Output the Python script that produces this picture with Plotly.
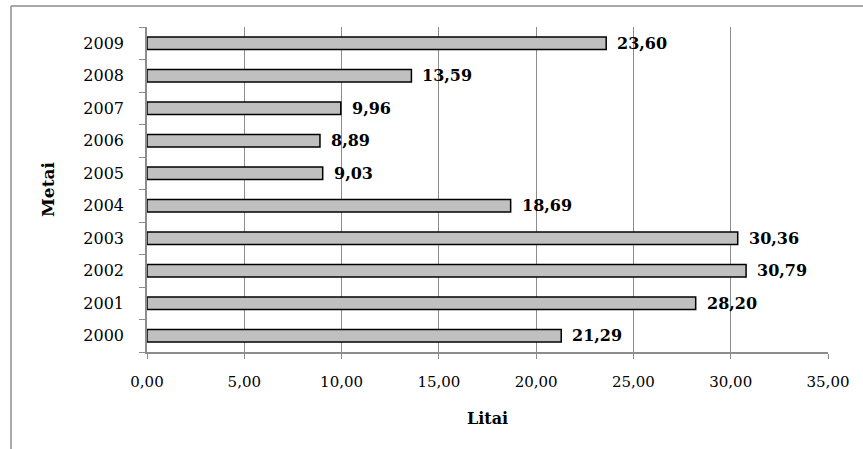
import plotly.graph_objects as go

# Yearly values (Litai), bottom-to-top order as listed on the axis
years = ["2000", "2001", "2002", "2003", "2004", "2005", "2006", "2007", "2008", "2009"]
values = [21.29, 28.20, 30.79, 30.36, 18.69, 9.03, 8.89, 9.96, 13.59, 23.60]
x_ticks = [0, 5, 10, 15, 20, 25, 30, 35]

W, H = 863, 449
ML, MR, MT, MB = 147, 35, 27, 97
plot_w = W - ML - MR
plot_h = H - MT - MB

SERIF = "DejaVu Serif"
AXIS_GRAY = "#8c8c8c"

pos = list(range(len(years)))
bounds = [p - 0.5 for p in pos] + [pos[-1] + 0.5]

fig = go.Figure()
fig.add_trace(go.Bar(
    y=pos,
    x=values,
    orientation="h",
    width=0.38,
    marker=dict(color="#c0c0c0", line=dict(color="#000000", width=1.5)),
    hoverinfo="skip",
))

# value labels to the right of each bar
for p, v in zip(pos, values):
    fig.add_annotation(
        x=v, y=p, text="<b>" + f"{v:.2f}".replace(".", ",") + "</b>",
        xanchor="left", yanchor="middle", xshift=9, showarrow=False,
        font=dict(family=SERIF, size=16, color="#000000"),
    )

# frame lines on the left and top of the chart area
def px_x(p):
    return (p - ML) / plot_w

def px_y(p):
    return (H - MB - p) / plot_h

fig.add_shape(type="line", xref="paper", yref="paper",
              x0=px_x(11), x1=px_x(W + 5), y0=px_y(6), y1=px_y(6),
              line=dict(color=AXIS_GRAY, width=1.5))
fig.add_shape(type="line", xref="paper", yref="paper",
              x0=px_x(11), x1=px_x(11), y0=px_y(6), y1=px_y(H + 5),
              line=dict(color=AXIS_GRAY, width=1.5))

fig.update_layout(
    width=W, height=H,
    margin=dict(l=ML, r=MR, t=MT, b=MB, pad=0),
    paper_bgcolor="white", plot_bgcolor="white",
    separators=", ",
    showlegend=False,
    font=dict(family=SERIF, size=15, color="#000000"),
    xaxis=dict(
        range=[0, 35], tickvals=x_ticks, tickformat=".2f",
        showgrid=True, gridcolor=AXIS_GRAY, gridwidth=1,
        showline=True, linecolor=AXIS_GRAY, linewidth=1.5,
        ticks="outside", ticklen=5, tickcolor=AXIS_GRAY, tickwidth=1,
        ticklabelstandoff=10,
        zeroline=False,
        tickfont=dict(family=SERIF, size=15),
        title=dict(text="<b>Litai</b>", standoff=23,
                   font=dict(family=SERIF, size=16)),
    ),
    yaxis=dict(
        range=[bounds[0], bounds[-1]],
        tickvals=pos, ticktext=years,
        showline=True, linecolor=AXIS_GRAY, linewidth=1.5,
        ticks="", ticklabelstandoff=18,
        minor=dict(tickvals=bounds, ticks="outside", ticklen=6,
                   tickcolor=AXIS_GRAY, tickwidth=1, showgrid=False),
        showgrid=False, zeroline=False,
        tickfont=dict(family=SERIF, size=16),
        title=dict(text="<b>Metai</b>", standoff=24,
                   font=dict(family=SERIF, size=17)),
    ),
)

fig.write_html("out.html")
